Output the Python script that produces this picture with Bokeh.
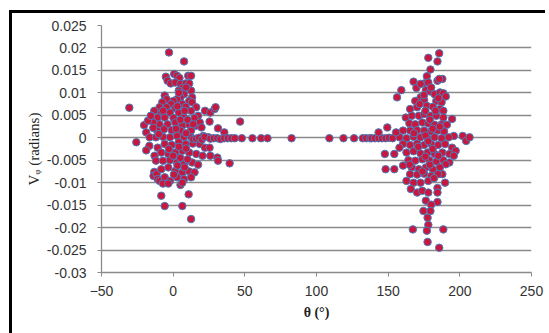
from bokeh.plotting import figure
from bokeh.models import FixedTicker, Range1d, Title
from bokeh.embed import file_html
from bokeh.resources import INLINE

# ---------------- data ----------------
theta_left = [-2.9, 7.6, -5.1, 0.7, 2.7, 4.4, 10.5, 12.5, -3.9, -1.7, 1.5, 5.1, 8.8, 11.2,
              6.4, 3.9, 10.0, 12.5, 7.6, 13.2, 5.1, 2.7, 11.2, 0.2, -5.9, -4.6, -7.6, -1.5,
              6.4, 13.2, -9.5, -4.6, 1.5, 8.8, 16.1, 17.4, 12.5, 3.9, -2.2, -8.3, -13.2,
              -15.2, -10.8, -5.9, 0.2, 7.6, 14.9, 1.5, -3.9, -9.5, -13.9, 6.4, 11.2, 16.1,
              18.6, 22.2, 25.9, 28.9, 29.6, 25.4, 19.8, 12.5, 5.1, -1.0, -6.4, -11.2, -13.9,
              -20.3, -17.6, -15.6, -18.8, -16.4, -12.0, -7.1, -2.2, 2.7, 7.6, 12.5, 17.4,
              21.0, 24.7, 31.3, 35.7, -25.7, -30.6, -16.6, -18.8, -13.0, -10.8, -5.9, -1.0,
              3.9, 8.8, 13.7, 18.6, 22.2, 25.4, -8.3, -3.4, 1.5, 6.4, 11.2, 16.1, 20.5,
              25.9, 30.8, 31.3, 39.4, -12.0, -7.1, -2.2, 2.7, 7.6, 13.2, 17.4, -13.2, -13.7,
              -11.5, -8.3, -3.4, 1.5, 6.4, 11.2, 14.9, -10.8, -9.5, -5.9, -2.2, 2.7, 7.6,
              12.5, -7.1, -3.4, 5.1, 6.4, -8.3, -5.9, 6.4, 10.8, 12.5,
              4.0, 9.0, 3.0, 8.0, 5.0, 10.0, 2.0, 9.0, 4.0, 9.0, 5.0, 10.0, 3.0, 8.0, 0.0,
              -3.0, 14.0, -7.0, -10.0, 0.5]
v_left = [0.0190, 0.0170, 0.0136, 0.0142, 0.0138, 0.0133, 0.0138, 0.0138, 0.0127, 0.0121,
          0.0123, 0.0120, 0.0121, 0.0121, 0.0111, 0.0105, 0.0108, 0.0105, 0.0097, 0.0090,
          0.0090, 0.0086, 0.0082, 0.0082, 0.0094, 0.0086, 0.0079, 0.0075, 0.0075, 0.0079,
          0.0068, 0.0068, 0.0066, 0.0069, 0.0068, 0.0049, 0.0060, 0.0056, 0.0056, 0.0056,
          0.0060, 0.0049, 0.0045, 0.0045, 0.0044, 0.0045, 0.0044, 0.0034, 0.0030, 0.0030,
          0.0034, 0.0027, 0.0029, 0.0027, 0.0034, 0.0060, 0.0056, 0.0064, 0.0068, 0.0036,
          0.0023, 0.0016, 0.0016, 0.0017, 0.0019, 0.0016, 0.0022, 0.0028, 0.0038, 0.0049,
          0.0012, 0.0001, 0.0001, 0.0002, 0.0001, 0.0004, 0.0002, 0.0001, -0.0001, 0.0004,
          0.0001, 0.0021, 0.0012, -0.0010, 0.0067, -0.0018, -0.0028, -0.0040, -0.0022,
          -0.0014, -0.0016, -0.0010, -0.0014, -0.0013, -0.0014, -0.0022, -0.0022, -0.0033,
          -0.0036, -0.0033, -0.0029, -0.0033, -0.0036, -0.0040, -0.0040, -0.0044, -0.0051,
          -0.0057, -0.0051, -0.0051, -0.0050, -0.0055, -0.0059, -0.0055, -0.0060, -0.0076,
          -0.0085, -0.0081, -0.0070, -0.0066, -0.0074, -0.0077, -0.0075, -0.0077, -0.0092,
          -0.0096, -0.0088, -0.0096, -0.0088, -0.0092, -0.0088, -0.0102, -0.0102, -0.0105,
          -0.0100, -0.0129, -0.0152, -0.0152, -0.0126, -0.0181,
          0.0100, 0.0112, 0.0070, 0.0060, 0.0040, 0.0040, 0.0020, 0.0010, -0.0020, -0.0024,
          -0.0045, -0.0048, -0.0062, -0.0066, -0.0040, -0.0025, 0.0030, 0.0060, 0.0008,
          -0.0082]

theta_mid = [14.0, 16.0, 18.0, 20.0, 22.0, 26.0, 28.4, 30.8, 33.0, 35.7, 38.1, 40.6, 43.0,
             47.9, 55.3, 61.4, 65.8, 82.6, 46.7,
             109.0, 118.8, 126.2, 132.3, 134.7, 137.2, 138.4, 140.8, 143.3, 145.7, 148.2,
             143.3, 149.4, 147.7, 148.2, 150.6, 153.1, 157.9]
v_mid = [-0.0003, -0.0002, 0.0000, -0.0004, 0.0002, -0.0002, -0.0001, -0.0001, -0.0003,
         -0.0001, -0.0001, -0.0001, -0.0001, -0.0001, -0.0001, -0.0001, -0.0001, -0.0001,
         0.0036,
         -0.0001, -0.0001, -0.0001, -0.0001, -0.0001, -0.0001, -0.0001, -0.0001, -0.0001,
         -0.0001, -0.0001, 0.0012, 0.0023, -0.0036, -0.0070, 0.0000, -0.0001, 0.0001]

theta_right = [185.6, 178.0, 184.4, 179.5, 177.0, 175.1, 167.7, 169.7, 172.6, 184.4, 187.8,
               185.6, 178.0, 159.2, 156.2, 176.3, 179.5, 182.4, 186.1, 188.5, 190.2, 172.6,
               175.1, 168.9, 183.6, 187.3, 165.3, 170.2, 177.0, 181.2, 186.1, 188.5, 162.3,
               166.5, 171.4, 175.1, 179.5, 183.6, 188.5, 194.6, 164.8, 168.9, 173.8, 178.0,
               182.4, 187.3, 191.0, 160.4, 165.3, 170.2, 175.1, 180.0, 184.8, 189.0, 155.5,
               195.8, 202.0, 204.4, 206.8, 162.8, 167.7, 172.6, 177.5, 182.4, 187.3, 192.2,
               160.4, 165.3, 170.2, 175.1, 180.0, 184.8, 189.7, 194.6, 157.9, 154.3, 162.8,
               167.7, 172.6, 177.5, 182.4, 187.8, 192.7, 197.1, 195.8, 164.1, 168.9, 173.8,
               178.7, 183.6, 188.5, 192.7, 190.2, 154.3, 160.4, 166.5, 171.4, 176.3, 181.2,
               186.1, 187.8, 165.3, 170.2, 175.1, 180.0, 184.8, 162.8, 167.7, 172.6, 178.0,
               189.7, 165.8, 170.2, 173.8, 178.0, 184.4, 184.4, 176.3, 184.4, 180.0, 174.6,
               179.5, 177.5, 178.0, 167.2, 188.5, 177.0, 177.5, 185.6,
               176.0, 179.0, 181.0, 176.0, 178.0, 181.0, 176.0, 179.0, 174.0, 182.0, 172.0,
               183.0, 186.0, 168.0, 171.0, 185.0, 175.0, 180.0, 185.0, 165.0]
v_right = [0.0188, 0.0178, 0.0170, 0.0152, 0.0137, 0.0121, 0.0125, 0.0111, 0.0120, 0.0127,
           0.0131, 0.0131, 0.0123, 0.0106, 0.0090, 0.0106, 0.0103, 0.0097, 0.0101, 0.0099,
           0.0092, 0.0090, 0.0084, 0.0082, 0.0082, 0.0079, 0.0064, 0.0068, 0.0071, 0.0069,
           0.0064, 0.0060, 0.0045, 0.0049, 0.0049, 0.0053, 0.0049, 0.0049, 0.0045, 0.0042,
           0.0032, 0.0030, 0.0034, 0.0032, 0.0029, 0.0030, 0.0029, 0.0016, 0.0016, 0.0017,
           0.0016, 0.0014, 0.0016, 0.0014, 0.0012, 0.0004, 0.0004, -0.0007, 0.0001, -0.0001,
           0.0002, 0.0001, -0.0001, 0.0001, -0.0001, 0.0001, -0.0014, -0.0016, -0.0013,
           -0.0016, -0.0014, -0.0016, -0.0014, -0.0022, -0.0022, -0.0036, -0.0033, -0.0030,
           -0.0035, -0.0033, -0.0036, -0.0033, -0.0036, -0.0029, -0.0040, -0.0050, -0.0051,
           -0.0048, -0.0050, -0.0053, -0.0050, -0.0055, -0.0059, -0.0070, -0.0062, -0.0066,
           -0.0070, -0.0066, -0.0070, -0.0066, -0.0081, -0.0081, -0.0082, -0.0080, -0.0085,
           -0.0081, -0.0096, -0.0100, -0.0100, -0.0096, -0.0100, -0.0114, -0.0122, -0.0118,
           -0.0122, -0.0112, -0.0122, -0.0140, -0.0143, -0.0149, -0.0163, -0.0163, -0.0178,
           -0.0194, -0.0204, -0.0204, -0.0207, -0.0232, -0.0245,
           0.0060, 0.0040, 0.0020, 0.0005, -0.0008, -0.0025, -0.0042, -0.0060, -0.0075,
           -0.0090, 0.0075, 0.0060, 0.0025, 0.0010, -0.0020, -0.0040, 0.0095, 0.0112, 0.0088,
           -0.0060]

x_ticks = [-50, 0, 50, 100, 150, 200, 250]
y_ticks = [-0.03, -0.025, -0.02, -0.015, -0.01, -0.005, 0.0, 0.005, 0.01, 0.015, 0.02, 0.025]
y_tick_labels = ["-0.03", "-0.025", "-0.02", "-0.015", "-0.01", "-0.005", "0",
                 "0.005", "0.01", "0.015", "0.02", "0.025"]

# ---------------- figure ----------------
p = figure(output_backend="svg", toolbar_location=None,
           frame_width=430, frame_height=247,
           min_border_left=89, min_border_right=17, min_border_top=12, min_border_bottom=66,
           x_range=Range1d(-50, 250), y_range=Range1d(-0.03, 0.025),
           background_fill_color="white", border_fill_color="white",
           styles={"margin-left": "12px", "margin-top": "13px",
                   "box-shadow": "-3px -3px 0 0 #000"})
p.outline_line_color = None
p.xgrid.visible = False
p.ygrid.grid_line_color = "#8a8a8a"
p.ygrid.grid_line_width = 1.3

for ax in (p.xaxis[0], p.yaxis[0]):
    ax.axis_line_color = "#8a8a8a"
    ax.axis_line_width = 1.3
    ax.major_tick_line_color = "#8a8a8a"
    ax.major_tick_in = 0
    ax.major_tick_out = 4
    ax.minor_tick_line_color = None
    ax.major_label_text_font = "Liberation Sans"
    ax.major_label_text_font_size = "14px"
    ax.major_label_text_color = "#333333"

p.xaxis.ticker = FixedTicker(ticks=x_ticks)
p.yaxis.ticker = FixedTicker(ticks=y_ticks)
p.yaxis.major_label_overrides = dict(zip(y_ticks, y_tick_labels))
p.xaxis.major_label_standoff = 9
p.yaxis.major_label_standoff = 11

p.xaxis.axis_label = "θ (°)"
p.xaxis.axis_label_text_font = "Liberation Serif"
p.xaxis.axis_label_text_font_style = "bold"
p.xaxis.axis_label_text_font_size = "14px"
p.xaxis.axis_label_text_color = "#222222"
p.xaxis.axis_label_standoff = 6

# y-axis title: a left-side title, shifted up a little as in the reference
p.add_layout(Title(text="V\u1d69 (radians)", align="center", offset=29, standoff=3,
                   text_font="Liberation Serif", text_font_style="normal",
                   text_font_size="15px", text_color="#222222"), "left")

marker_style = dict(size=7.5, fill_color="#c8163e", line_color="#4a7ebb", line_width=1)
p.scatter(theta_left, v_left, **marker_style)
p.scatter(theta_mid, v_mid, **marker_style)
p.scatter(theta_right, v_right, **marker_style)

open("out.html", "w").write(file_html(p, INLINE))
